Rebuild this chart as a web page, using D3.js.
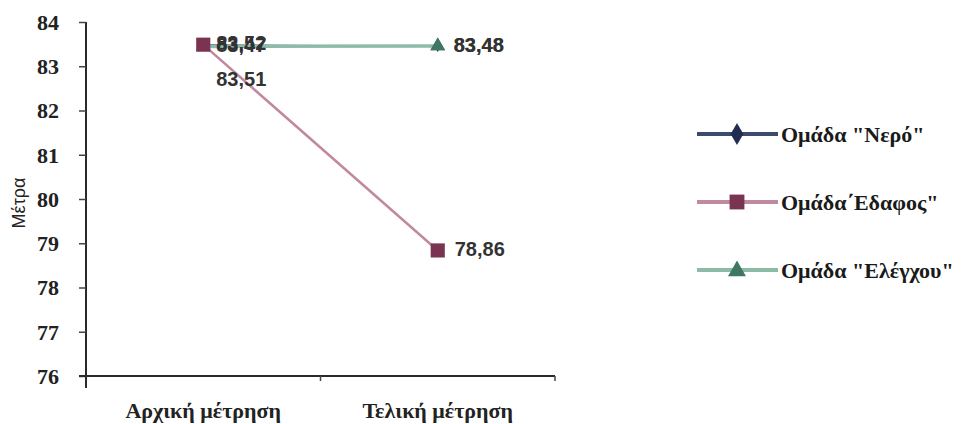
<!DOCTYPE html>
<html><head><meta charset="utf-8">
<script src="https://cdn.jsdelivr.net/npm/d3@7"></script>
<style>body{margin:0;background:#fff}</style>
</head><body>
<svg id="c" width="967" height="424"></svg>
<script>
const categories = ["Αρχική μέτρηση", "Τελική μέτρηση"];
const seriesNames = ["Ομάδα \"Νερό\"", "Ομάδα΄Εδαφος\"", "Ομάδα \"Ελέγχου\""];
const neroValues = [83.52, 83.48];
const edafosValues = [83.51, 78.86];
const elegxouValues = [83.47, 83.48];
const yTicks = [76, 77, 78, 79, 80, 81, 82, 83, 84];

const svg = d3.select("#c");
const x0 = 86, x1 = 555, yTop = 22, yBot = 376;
const xBand = d3.scaleBand().domain(categories).range([x0, x1]);
const y = d3.scaleLinear().domain([76, 84]).range([yBot, yTop]);
const fmt = v => d3.format(".2f")(v).replace(".", ",");

// axes
const ya = svg.append("g").attr("transform", `translate(${x0},0)`)
  .call(d3.axisLeft(y).tickValues(yTicks).tickSize(7).tickFormat(d => d));
ya.select(".domain").attr("stroke", "#2a2a2a").attr("stroke-width", 2).attr("d", `M0,${yTop}V${yBot+12}`);
ya.selectAll(".tick line").attr("stroke", "#444").attr("stroke-width", 1.5);
ya.selectAll(".tick text").attr("font-family", "Liberation Serif").attr("font-weight", "bold")
  .attr("font-size", 22).attr("fill", "#222").attr("x", -27).attr("dy", "0.33em");

const xa = svg.append("g").attr("transform", `translate(0,${yBot})`);
xa.append("line").attr("x1", x0 - 7).attr("x2", x1).attr("y1", 0).attr("y2", 0)
  .attr("stroke", "#2a2a2a").attr("stroke-width", 2);
xa.selectAll("line.tk").data([x0 + xBand.step(), x1]).join("line").attr("class", "tk")
  .attr("x1", d => d).attr("x2", d => d).attr("y1", 0).attr("y2", 5)
  .attr("stroke", "#444").attr("stroke-width", 1.5);
xa.selectAll("text").data(categories).join("text")
  .attr("x", d => xBand(d) + xBand.bandwidth() / 2).attr("y", 42)
  .attr("text-anchor", "middle").attr("font-family", "Liberation Serif")
  .attr("font-weight", "bold").attr("font-size", 22).attr("fill", "#222").text(d => d);

svg.append("text").attr("transform", "translate(25,203) rotate(-90)")
  .attr("text-anchor", "middle").attr("font-family", "Liberation Sans")
  .attr("font-size", 18).attr("fill", "#222").text("Μέτρα");

const series = [
  {name: seriesNames[0], vals: neroValues, line: "#3c4a6e", lw: 1.2, mark: "#1f2d50", shape: d3.symbolDiamond, sz: 30},
  {name: seriesNames[1], vals: edafosValues, line: "#c0899f", lw: 2.5, mark: "#7a3452", shape: d3.symbolSquare, sz: 200},
  {name: seriesNames[2], vals: elegxouValues, line: "#8dbba8", lw: 3.5, mark: "#3f7762", shape: d3.symbolTriangle, sz: 95}
];
const cx = c => xBand(c) + xBand.bandwidth() / 2;
const lineGen = d3.line().x((d, i) => cx(categories[i])).y(d => y(d) + 1);
const order = [0, 2, 1];
order.forEach(k => {
  const s = series[k];
  svg.append("path").datum(s.vals).attr("d", k === 0 ? d3.line().x((d, i) => cx(categories[i])).y(d => y(d) + 1.5)(s.vals) : lineGen(s.vals))
    .attr("fill", "none").attr("stroke", s.line).attr("stroke-width", s.lw);
});
order.forEach(k => {
  const s = series[k];
  svg.selectAll(null).data(s.vals).join("path")
    .attr("transform", (d, i) => `translate(${cx(categories[i])},${y(d) + (k === 0 ? 2 : 1)})`)
    .attr("d", d3.symbol().type(s.shape).size(s.sz))
    .attr("fill", s.mark);
});
svg.append("path").attr("transform", `translate(${cx(categories[1])},${y(elegxouValues[1]) + 1})`)
  .attr("d", d3.symbol().type(d3.symbolTriangle).size(95)).attr("fill", series[2].mark);

// data labels
const labels = [
  {v: neroValues[0], c: 0, dx: 13, dy: 7},
  {v: elegxouValues[0], c: 0, dx: 13, dy: 7},
  {v: edafosValues[0], c: 0, dx: 13, dy: 42},
  {v: edafosValues[1], c: 1, dx: 17, dy: 7},
  {v: neroValues[1], c: 1, dx: 16, dy: 7},
  {v: elegxouValues[1], c: 1, dx: 16, dy: 7}
];
svg.selectAll("text.dl").data(labels).join("text").attr("class", "dl")
  .attr("x", d => cx(categories[d.c]) + d.dx).attr("y", d => y(d.v) + d.dy)
  .attr("font-family", "Liberation Sans").attr("font-weight", "bold")
  .attr("font-size", 20).attr("fill", "#333").text(d => fmt(d.v));

// legend
const lg = svg.append("g");
const ly = [134, 202, 270];
series.forEach((s, i) => {
  lg.append("line").attr("x1", 697).attr("x2", 778).attr("y1", ly[i]).attr("y2", ly[i])
    .attr("stroke", s.line).attr("stroke-width", 4);
  lg.append("path").attr("transform", `translate(737,${ly[i] + (s.shape === d3.symbolTriangle ? 1 : 0)})`)
    .attr("d", d3.symbol().type(s.shape).size(s.shape === d3.symbolSquare ? 220 : 140)).attr("fill", s.mark);
  lg.append("text").attr("x", 781).attr("y", ly[i] + 8).attr("font-family", "Liberation Serif")
    .attr("font-weight", "bold").attr("font-size", 22).attr("fill", "#1a1a1a").text(s.name);
});
</script>
</body></html>
